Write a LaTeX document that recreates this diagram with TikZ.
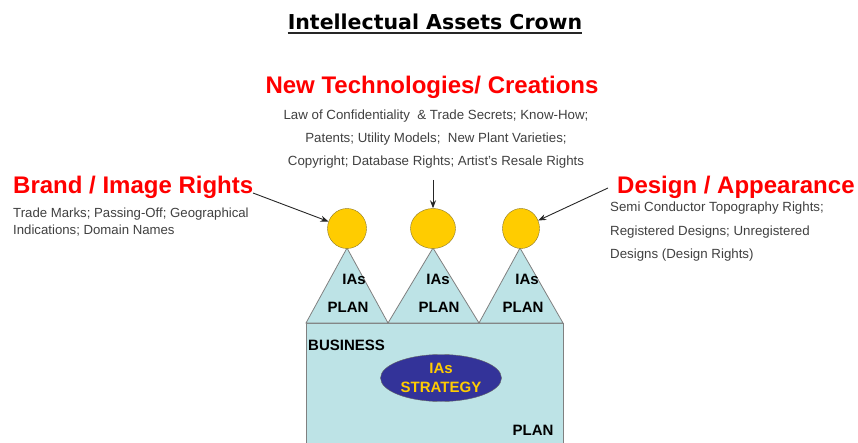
\documentclass[tikz,border=0pt]{standalone}
\usepackage{fontspec}
\setmainfont{Liberation Sans}
\newfontfamily\titlefont{DejaVu Sans}
\usetikzlibrary{shapes.geometric,arrows.meta,positioning}
\definecolor{crownfill}{RGB}{189,227,230}
\definecolor{crownline}{RGB}{128,128,128}
\definecolor{gemfill}{RGB}{255,204,0}
\definecolor{gemline}{RGB}{140,120,40}
\definecolor{stratfill}{RGB}{51,51,153}
\definecolor{headred}{RGB}{255,0,0}
\definecolor{desctext}{RGB}{64,64,64}

\begin{document}
\begin{tikzpicture}[
  x=1pt, y=-1pt,
  head/.style={font=\fontsize{24}{28}\selectfont\bfseries, text=headred, inner sep=0pt},
  desc/.style={text=desctext, inner sep=0pt},
  gem/.style={ellipse, draw=gemline, fill=gemfill, inner sep=0pt, minimum height=40pt},
  part/.style={draw=crownline, fill=crownfill, line width=0.8pt},
  lbl/.style={font=\fontsize{15}{18}\selectfont\bfseries, inner sep=0pt, anchor=base},
  arr/.style={-{Stealth[length=8pt,width=6pt]}, draw=black!85, line width=0.9pt},
]
  \useasboundingbox (0,0) rectangle (858,443);

  %% Title
  \node[font=\titlefont\fontsize{20.5}{24}\selectfont\bfseries, inner sep=0pt, anchor=base]
       (title) at (435,30) {Intellectual Assets Crown};
  \draw[line width=2pt, black!85] ([yshift=-3.5pt]title.base west) -- ([yshift=-3.5pt]title.base east);

  %% Crown body and its three points
  \path[part] (306,323) rectangle (563,446);
  \path[part] (306,323) -- (347,248) -- (388,323) -- cycle;
  \path[part] (388,323) -- (433,248) -- (479,323) -- cycle;
  \path[part] (479,323) -- (520,248) -- (563,323) -- cycle;

  %% Gems on top of the points
  \node[gem, minimum width=39pt] (gemL) at (347,228.5) {};
  \node[gem, minimum width=45pt] (gemM) at (433,228.5) {};
  \node[gem, minimum width=37pt] (gemR) at (521,228.5) {};

  %% Labels inside the crown
  \node[lbl] (iasL)  at (354,284) {IAs};
  \node[lbl] (planL) at (348,312.5) {PLAN};
  \node[lbl] (iasM)  at (438,284) {IAs};
  \node[lbl] (planM) at (439,312.5) {PLAN};
  \node[lbl] (iasR)  at (527,284) {IAs};
  \node[lbl] (planR) at (523,312.5) {PLAN};
  \node[lbl, anchor=base west] (business) at (308,350) {BUSINESS};
  \node[lbl] (planB) at (533,435) {PLAN};
  \node[ellipse, draw=black!60, fill=stratfill, minimum width=121pt, minimum height=47pt,
        inner sep=0pt, text=gemfill, align=center, font=\fontsize{15}{18.3}\selectfont\bfseries]
       (strategy) at (441,378) {IAs\\STRATEGY};

  %% Headings and what they cover
  \node[head, anchor=base] (newtech) at (432,93.6) {New Technologies/ Creations};
  \node[desc, align=center, font=\fontsize{13.3}{23}\selectfont, below=16pt of newtech.base, anchor=north, xshift=4pt]
       (newtechtxt) {Law of Confidentiality~~\& Trade Secrets; Know-How;\\
                     Patents; Utility Models;~~New Plant Varieties;\\
                     Copyright; Database Rights; Artist{\char39}s Resale Rights};

  \node[head, anchor=base west] (brand) at (13,193.6) {Brand / Image Rights};
  \node[desc, align=left, font=\fontsize{13.2}{17}\selectfont, below=14pt of brand.base west, anchor=north west]
       (brandtxt) {Trade Marks; Passing-Off; Geographical\\Indications; Domain Names};

  \node[head, anchor=base west] (design) at (617,193.6) {Design / Appearance};
  \node[desc, align=left, font=\fontsize{13.3}{23.5}\selectfont, below=8.5pt of design.base west, anchor=north west,
        xshift=-7pt]
       (designtxt) {Semi Conductor Topography Rights;\\Registered Designs; Unregistered\\Designs (Design Rights)};

  %% Pointers to the gems
  \coordinate (brandend)  at (253,193);
  \coordinate (newtechend) at (433,180);
  \coordinate (designend) at (608,188);
  \draw[arr] (brandend)   -- (gemL);
  \draw[arr] (newtechend) -- (gemM);
  \draw[arr] (designend)  -- (gemR);
\end{tikzpicture}
\end{document}
